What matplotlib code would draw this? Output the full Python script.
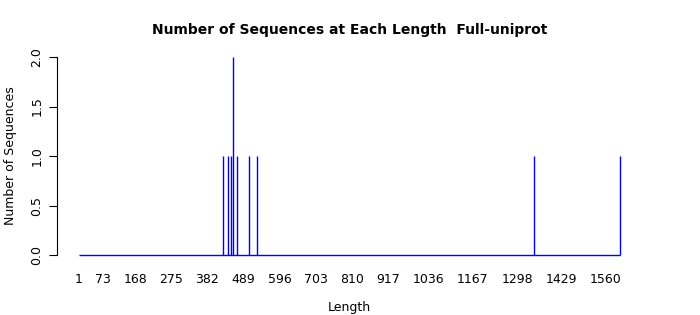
import numpy as np
import matplotlib
matplotlib.use("Agg")
import matplotlib.pyplot as plt

# Sekans uzunlukları ve sayıları
lengths = [429, 442, 453, 459, 469, 506, 528, 1347, 1603]
counts = [1, 1, 1, 2, 1, 1, 1, 1, 1]

# Uzunluk aralığı (1 .. en uzun sekans)
length_min = 1
length_max = 1603

x_ticks = [1, 73, 168, 275, 382, 489, 596, 703, 810, 917, 1036, 1167, 1298, 1429, 1560]
y_ticks = [0.0, 0.5, 1.0, 1.5, 2.0]

title = "Number of Sequences at Each Length  Full-uniprot"

fig = plt.figure(figsize=(7, 3.15), dpi=100)
ax = fig.add_axes([0.0814, 0.1654, 0.8356, 0.6786])

# Sıfır taban çizgisi ve dikey çubuklar
ax.hlines(0, length_min, length_max, color="#0000ff", linewidth=1.0)
ax.vlines(lengths, 0, counts, color="#0000ff", linewidth=1.0)

span = length_max - length_min
ax.set_xlim(length_min - 0.04 * span, length_max + 0.04 * span)
ax.set_ylim(-0.08, 2.08)

for s in ["top", "right", "bottom"]:
    ax.spines[s].set_visible(False)
ax.spines["left"].set_bounds(0, 2)
ax.spines["left"].set_linewidth(0.8)

ax.set_xticks(x_ticks)
ax.set_xticklabels([str(v) for v in x_ticks], fontsize=9)
ax.tick_params(axis="x", length=0, pad=7.5)

ax.set_yticks(y_ticks)
ax.set_yticklabels([f"{v:.1f}" for v in y_ticks], fontsize=9, rotation=90, va="center")
ax.tick_params(axis="y", length=6, width=0.8, pad=3.8)

ax.set_title(title, fontsize=10, fontweight="bold", pad=11)
ax.set_xlabel("Length", fontsize=9, labelpad=10.5)
ax.set_ylabel("Number of Sequences", fontsize=9, labelpad=9.5)

fig.savefig("out.png", dpi=100)
